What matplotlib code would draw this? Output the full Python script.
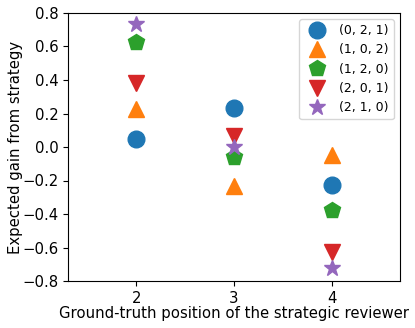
import matplotlib
matplotlib.use("Agg")
import matplotlib.pyplot as plt

positions = [2, 3, 4]
labels = ["(0, 2, 1)", "(1, 0, 2)", "(1, 2, 0)", "(2, 0, 1)", "(2, 1, 0)"]
markers = ["o", "^", "p", "v", "*"]
gains_021 = [0.05, 0.23, -0.226]
gains_102 = [0.228, -0.23, -0.05]
gains_120 = [0.627, -0.057, -0.376]
gains_201 = [0.38, 0.063, -0.627]
gains_210 = [0.736, 0.0, -0.725]
series = [gains_021, gains_102, gains_120, gains_201, gains_210]

fig = plt.figure(figsize=(4.15, 3.28), dpi=100)
ax = fig.add_axes([68 / 415, 47 / 328, 332 / 415, 268 / 328])
for lab, mk, vals in zip(labels, markers, series):
    ax.plot(positions, vals, mk, markersize=12, label=lab)
ax.set_xlim(1.3, 4.7)
ax.set_ylim(-0.8, 0.8)
ax.set_xticks(positions)
ax.tick_params(labelsize=10.7)
ax.set_xlabel("Ground-truth position of the strategic reviewer", fontsize=10.7)
ax.set_ylabel("Expected gain from strategy", fontsize=10.7)
ax.xaxis.set_label_coords(0.5, -0.095)
ax.yaxis.set_label_coords(-0.137, 0.5)
ax.legend(loc="upper right", fontsize=9)
fig.savefig("out.png")
